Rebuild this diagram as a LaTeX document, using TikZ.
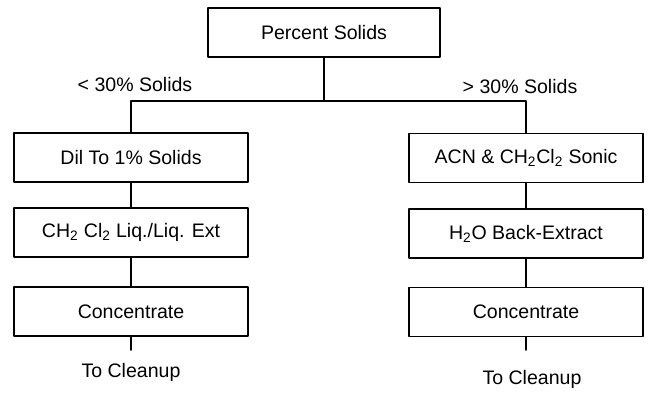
\documentclass[tikz,border=0pt]{standalone}
\usepackage{fontspec}
\setmainfont{Liberation Sans}
\begin{document}
\begin{tikzpicture}[line join=round, line cap=round, line width=1.3pt]
			\tikzset{stage/.style={draw, minimum width=5.85cm, minimum height=1.225cm, font=\fontsize{13.9}{16}\selectfont},
				note/.style={font=\fontsize{13.9}{16}\selectfont}}
			\useasboundingbox (0,0) rectangle (16.225,9.9);
			\node[stage,minimum width=5.8cm] (top) at (8.1,9.09) {Percent Solids};
			% left branch
			\node[stage] (l1) at (3.275,5.96) {Dil To 1\% Solids};
			\node[stage] (l2) at (3.275,4.09) {CH\textsubscript{2} Cl\textsubscript{2} Liq./Liq. Ext};
			\node[stage] (l3) at (3.275,2.11) {Concentrate};
			\node[note,anchor=north,inner ysep=9pt] (lend) at (3.275,1.15) {To Cleanup};
			% right branch
			\node[stage] (r1) at (13.15,5.95) {ACN \& CH\textsubscript{2}Cl\textsubscript{2} Sonic};
			\node[stage] (r2) at (13.15,4.06) {H\textsubscript{2}O Back-Extract};
			\node[stage] (r3) at (13.15,2.1) {Concentrate};
			\node[note,anchor=north,inner ysep=14pt] (rend) at (13.3,1.15) {To Cleanup};
			\node[note] (low) at (3.375,7.78) {< 30\% Solids};
			\node[note] (high) at (13.0,7.73) {> 30\% Solids};
			\coordinate (fork) at (8.1,7.375);
			\draw (top) -- (fork);
			\draw (l1.north) |- (fork) -| (r1.north);
			\draw (l1) -- (l2);
			\draw (l2) -- (l3);
			\draw (l3) -- (lend);
			\draw (r1) -- (r2);
			\draw (r2) -- (r3);
			\draw (r3.south) -- (rend.north -| r3.south);
		\end{tikzpicture}
\end{document}
